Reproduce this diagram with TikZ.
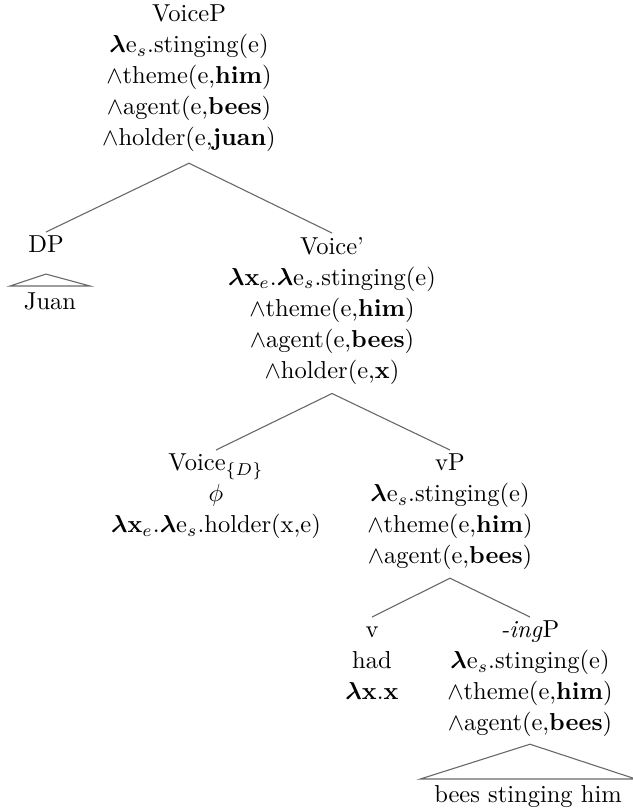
\documentclass[tikz,border=0pt]{standalone}
\usepackage{amsmath}
\usetikzlibrary{positioning}
\definecolor{branchgray}{RGB}{105, 105, 105}
\newcommand{\lam}{\ensuremath{\boldsymbol{\lambda}}}

\begin{document}
\begin{tikzpicture}[
    x=0.408pt, y=-0.408pt,
    font=\fontsize{10}{12.65}\selectfont,
    lbl/.style={align=center, inner sep=1.5pt, anchor=north},
    roof/.style={inner xsep=5.5pt, inner ysep=2.5pt, anchor=north},
    branch/.style={draw=branchgray, line width=0.45pt}
  ]
    \useasboundingbox (0,0) rectangle (632,811);

    \node[lbl] (root) at (189,1)
      {VoiceP\\ \lam e$_s$.stinging(e)\\ $\wedge$theme(e,\textbf{him})\\
       $\wedge$agent(e,\textbf{bees})\\ $\wedge$holder(e,\textbf{juan})};

    \node[lbl]  (dp)   at (46,232)  {DP};
    \node[roof] (juan) at (50,286)  {Juan};

    \node[lbl] (vbar) at (332,233)
      {Voice'\\ \lam\textbf{x}$_e$.\lam e$_s$.stinging(e)\\ $\wedge$theme(e,\textbf{him})\\
       $\wedge$agent(e,\textbf{bees})\\ $\wedge$holder(e,\textbf{x})};

    \node[lbl] (voiced) at (216,450)
      {Voice$_{\{D\}}$\\ $\phi$\\ \lam\textbf{x}$_e$.\lam e$_s$.holder(x,e)};
    \node[lbl] (vp) at (450,450)
      {vP\\ \lam e$_s$.stinging(e)\\ $\wedge$theme(e,\textbf{him})\\
       $\wedge$agent(e,\textbf{bees})};

    \node[lbl] (v) at (372,617)
      {\vphantom{P}v\\ had\\ \lam\textbf{x}.\textbf{x}};
    \node[lbl] (ingp) at (530,617)
      {\textit{-ing}P\\ \lam e$_s$.stinging(e)\\ $\wedge$theme(e,\textbf{him})\\
       $\wedge$agent(e,\textbf{bees})};

    \node[roof] (bees) at (528,779) {bees stinging him};

    % branches
    \path (root.south) ++(0,7) coordinate (rootb);
    \draw[branch] (rootb) -- (dp.north);
    \draw[branch] (rootb) -- (vbar.north);

    \path (dp.south) ++(0,17) coordinate (dpb);
    \draw[branch] (dpb) -- (juan.north west) -- (juan.north east) -- cycle;

    \path (vbar.south) ++(0,5) coordinate (vbarb);
    \draw[branch] (vbarb) -- (voiced.north);
    \draw[branch] (vbarb) -- (vp.north);

    \path (vp.south) ++(0,4) coordinate (vpb);
    \draw[branch] (vpb) -- (v.north);
    \draw[branch] (vpb) -- (ingp.north);

    \path (ingp.south) ++(0,3) coordinate (ingpb);
    \draw[branch] (ingpb) -- (bees.north west) -- (bees.north east) -- cycle;
  \end{tikzpicture}
\end{document}
